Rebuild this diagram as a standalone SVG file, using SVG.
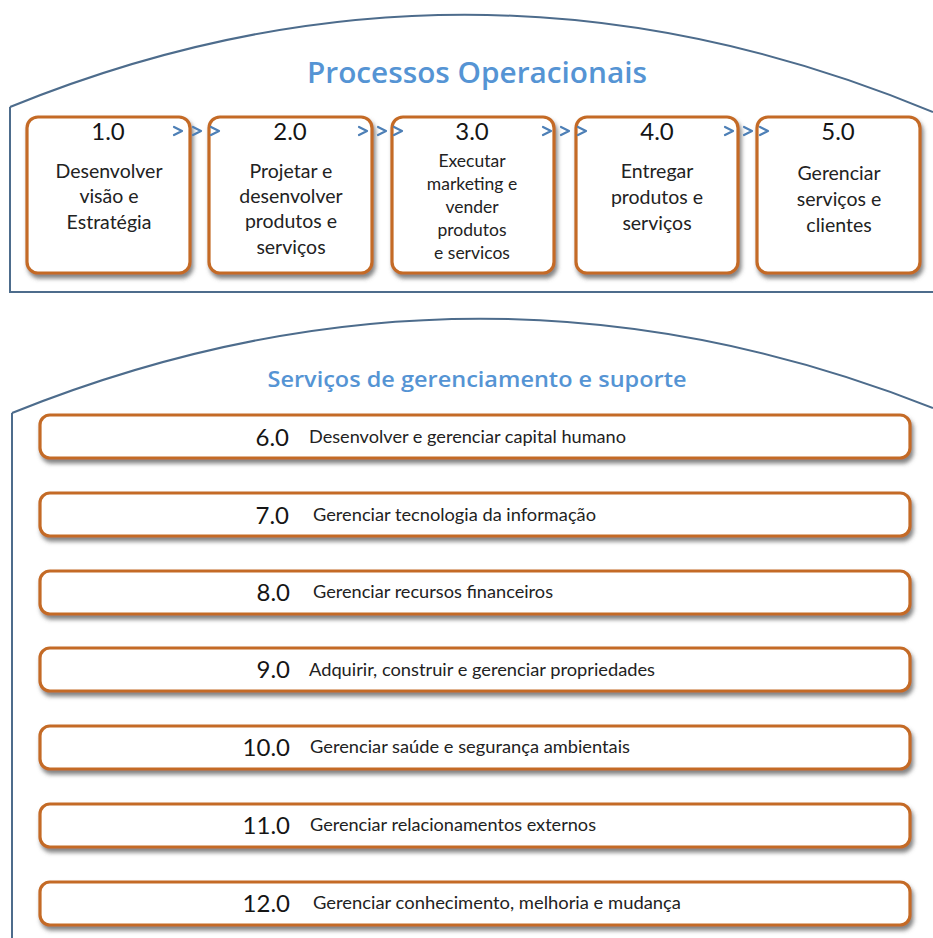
<svg xmlns="http://www.w3.org/2000/svg" width="933" height="938" viewBox="0 0 933 938">
  <defs>
    <filter id="shadow" x="-10%" y="-20%" width="130%" height="160%">
      <feDropShadow dx="2" dy="4" stdDeviation="2.2" flood-color="#5a5a5a" flood-opacity="0.75"/>
    </filter>
    <style>
      .frame { fill: none; stroke: #4d6c8c; stroke-width: 2; }
      .box { fill: #ffffff; stroke: #c46b25; stroke-width: 3.2; filter: url(#shadow); }
      .title { font-family: "Open Sans", "Liberation Sans", sans-serif; font-weight: 600; fill: #5594d4; text-anchor: middle; }
      .num { font-family: Lato, "Open Sans", sans-serif; font-size: 24px; fill: #151515; }
      .numc { text-anchor: middle; }
      .numr { text-anchor: end; }
      .lbl { font-family: Lato, "Open Sans", sans-serif; font-size: 19.5px; fill: #222222; text-anchor: middle; }
      .lbl3 { font-size: 17.5px; }
      .bar { font-family: Lato, "Open Sans", sans-serif; font-size: 17px; fill: #222222; }
      .chev { fill: none; stroke: #4d7fb6; stroke-width: 2.2; stroke-linecap: round; stroke-linejoin: round; }
    </style>
  </defs>

  <rect width="933" height="938" fill="#ffffff"/>

  <!-- upper container: operational processes -->
  <g id="frame-operacionais">
    <path class="frame" d="M10,107 Q470,-80 933,112"/>
    <path class="frame" d="M10,107 L10,292 L933,292"/>
    <text class="title" x="477" y="83" font-size="29" textLength="340" lengthAdjust="spacingAndGlyphs">Processos Operacionais</text>
  </g>

  <!-- lower container: management and support services -->
  <g id="frame-suporte">
    <path class="frame" d="M12,413 Q475,227 933,408"/>
    <path class="frame" d="M12,413 L12,938"/>
    <text class="title" x="477" y="387" font-size="21" textLength="419" lengthAdjust="spacingAndGlyphs">Serviços de gerenciamento e suporte</text>
  </g>

  <!-- process boxes -->
  <g id="p1">
    <rect class="box" x="27" y="117" width="163" height="156" rx="11"/>
    <text class="num numc" x="108" y="140">1.0</text>
    <text class="lbl" x="109" y="178">Desenvolver</text>
    <text class="lbl" x="109" y="203">visão e</text>
    <text class="lbl" x="109" y="229">Estratégia</text>
  </g>
  <g id="p2">
    <rect class="box" x="209" y="117" width="163" height="156" rx="11"/>
    <text class="num numc" x="290" y="140">2.0</text>
    <text class="lbl" x="291" y="178">Projetar e</text>
    <text class="lbl" x="291" y="203">desenvolver</text>
    <text class="lbl" x="291" y="228">produtos e</text>
    <text class="lbl" x="291" y="254">serviços</text>
  </g>
  <g id="p3">
    <rect class="box" x="392" y="117" width="162" height="156" rx="11"/>
    <text class="num numc" x="472" y="140">3.0</text>
    <text class="lbl lbl3" x="472" y="167">Executar</text>
    <text class="lbl lbl3" x="472" y="190">marketing e</text>
    <text class="lbl lbl3" x="472" y="213">vender</text>
    <text class="lbl lbl3" x="472" y="236">produtos</text>
    <text class="lbl lbl3" x="472" y="259">e servicos</text>
  </g>
  <g id="p4">
    <rect class="box" x="576" y="117" width="162" height="156" rx="11"/>
    <text class="num numc" x="657" y="140">4.0</text>
    <text class="lbl" x="657" y="178">Entregar</text>
    <text class="lbl" x="657" y="204">produtos e</text>
    <text class="lbl" x="657" y="230">serviços</text>
  </g>
  <g id="p5">
    <rect class="box" x="757" y="117" width="163" height="156" rx="11"/>
    <text class="num numc" x="838" y="140">5.0</text>
    <text class="lbl" x="839" y="180">Gerenciar</text>
    <text class="lbl" x="839" y="206">serviços e</text>
    <text class="lbl" x="839" y="232">clientes</text>
  </g>

  <!-- chevron connectors between process boxes -->
  <g id="connectors">
    <polyline class="chev" points="174,127 182,131 174,135"/>
    <polyline class="chev" points="193,127 201,131 193,135"/>
    <polyline class="chev" points="211,127 219,131 211,135"/>

    <polyline class="chev" points="359,127 367,131 359,135"/>
    <polyline class="chev" points="378,127 386,131 378,135"/>
    <polyline class="chev" points="394,127 402,131 394,135"/>

    <polyline class="chev" points="543,127 551,131 543,135"/>
    <polyline class="chev" points="561,127 569,131 561,135"/>
    <polyline class="chev" points="578,127 586,131 578,135"/>

    <polyline class="chev" points="725,127 733,131 725,135"/>
    <polyline class="chev" points="744,127 752,131 744,135"/>
    <polyline class="chev" points="760,127 768,131 760,135"/>
  </g>

  <!-- support service bars -->
  <g id="s6">
    <rect class="box" x="40" y="415" width="870" height="43" rx="10"/>
    <text class="num numr" x="289" y="446">6.0</text>
    <text class="bar" x="309" y="443" textLength="317" lengthAdjust="spacingAndGlyphs">Desenvolver e gerenciar capital humano</text>
  </g>
  <g id="s7">
    <rect class="box" x="40" y="493" width="870" height="43" rx="10"/>
    <text class="num numr" x="289" y="524">7.0</text>
    <text class="bar" x="313" y="521" textLength="283" lengthAdjust="spacingAndGlyphs">Gerenciar tecnologia da informação</text>
  </g>
  <g id="s8">
    <rect class="box" x="40" y="571" width="870" height="43" rx="10"/>
    <text class="num numr" x="290" y="601">8.0</text>
    <text class="bar" x="313" y="598" textLength="240" lengthAdjust="spacingAndGlyphs">Gerenciar recursos financeiros</text>
  </g>
  <g id="s9">
    <rect class="box" x="40" y="648" width="870" height="43" rx="10"/>
    <text class="num numr" x="290" y="678">9.0</text>
    <text class="bar" x="309" y="676" textLength="346" lengthAdjust="spacingAndGlyphs">Adquirir, construir e gerenciar propriedades</text>
  </g>
  <g id="s10">
    <rect class="box" x="40" y="726" width="870" height="43" rx="10"/>
    <text class="num numr" x="290" y="756">10.0</text>
    <text class="bar" x="310" y="753" textLength="320" lengthAdjust="spacingAndGlyphs">Gerenciar saúde e segurança ambientais</text>
  </g>
  <g id="s11">
    <rect class="box" x="40" y="804" width="870" height="43" rx="10"/>
    <text class="num numr" x="290" y="834">11.0</text>
    <text class="bar" x="310" y="831" textLength="286" lengthAdjust="spacingAndGlyphs">Gerenciar relacionamentos externos</text>
  </g>
  <g id="s12">
    <rect class="box" x="40" y="882" width="870" height="43" rx="10"/>
    <text class="num numr" x="290" y="912">12.0</text>
    <text class="bar" x="313" y="909" textLength="368" lengthAdjust="spacingAndGlyphs">Gerenciar conhecimento, melhoria e mudança</text>
  </g>
</svg>
